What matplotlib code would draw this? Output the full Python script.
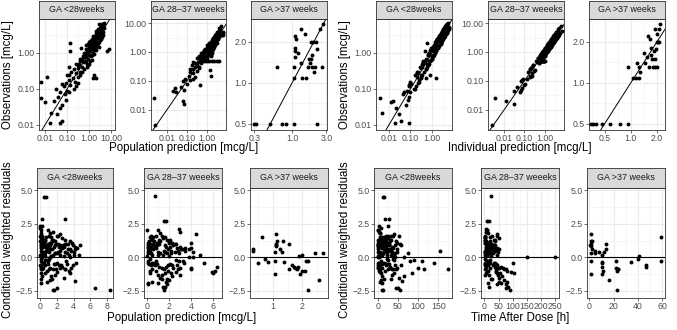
import numpy as np
import matplotlib.pyplot as plt
from matplotlib.ticker import NullFormatter

plt.rcParams['font.family'] = ['Liberation Sans', 'DejaVu Sans']

strips = ['GA <28weeks', 'GA 28\u201337 weeeks', 'GA >37 weeks']

# ---- GA <28 weeks: observation, PRED, IPRED, CWRES, time after dose ----
obs_lt28 = [0.16, 0.055, 0.22, 0.042, 0.021, 0.011, 0.011, 0.013, 0.03, 0.035,
            0.02, 0.045, 0.06, 0.08, 0.1, 0.07, 0.12, 0.09, 0.15, 0.05,
            0.18, 0.13, 0.25, 0.1, 0.3, 0.2, 0.35, 0.4, 0.16, 0.28,
            1.9, 1.16, 1.4, 0.45, 0.22, 0.5, 0.3, 0.6, 0.7, 0.4,
            0.55, 0.8, 0.9, 0.5, 1.0, 0.7, 1.2, 0.2, 0.2, 0.25,
            1.5, 1.1, 2.0, 0.8, 1.3, 1.8, 2.5, 1.0, 1.6, 2.2,
            3.0, 1.4, 2.0, 2.8, 1.2, 3.5, 2.4, 1.7, 4.0, 2.6,
            3.2, 2.0, 4.5, 3.0, 2.3, 5.0, 3.6, 4.2, 2.7, 5.5,
            3.8, 6.0, 4.4, 3.2, 5.2, 6.5, 1.1, 1.25, 0.6, 1.0,
            0.9, 1.3, 0.75, 2.2, 1.6, 2.9, 3.4, 2.1, 4.8, 3.9,
            1.9, 2.5, 1.5, 0.95, 5.8, 7.0, 4.6, 3.3, 2.7, 1.4,
            1.8, 2.4, 0.65, 1.2, 3.7, 0.45, 0.3, 0.15, 0.12, 0.8,
            0.5, 0.25, 0.6, 0.35, 0.9, 1.7, 6.5,
            1.7, 2.3, 3.1, 2.0, 4.1, 5.3, 2.6, 1.5, 3.6, 1.1,
            0.85, 2.9, 4.9, 6.2, 5.0, 3.9, 2.2, 1.3, 1.8, 0.7,
            0.5, 0.38, 0.25, 0.14, 0.08, 2.7, 3.4, 4.3, 1.2, 2.0,
            2.6, 5.6, 3.3, 1.6, 0.9, 0.6, 0.4, 1.9, 4.0, 2.4]
pred_lt28 = [0.0065, 0.0065, 0.012, 0.010, 0.019, 0.017, 0.05, 0.06, 0.05, 0.06,
             0.035, 0.025, 0.04, 0.05, 0.03, 0.08, 0.07, 0.1, 0.09, 0.09,
             0.12, 0.14, 0.1, 0.2, 0.15, 0.18, 0.2, 0.12, 0.22, 0.25,
             0.14, 0.14, 0.45, 0.3, 0.3, 0.35, 0.4, 0.4, 0.5, 0.5,
             0.6, 0.55, 0.7, 0.8, 0.8, 0.9, 0.9, 2.0, 1.5, 1.6,
             1.0, 1.1, 1.0, 1.2, 1.3, 1.2, 1.3, 1.5, 1.5, 1.6,
             1.5, 1.8, 1.8, 1.9, 2.0, 2.0, 2.1, 2.2, 2.3, 2.4,
             2.5, 2.6, 2.6, 2.8, 3.0, 3.0, 3.2, 3.3, 3.4, 3.5,
             3.6, 3.8, 4.0, 4.1, 4.2, 4.0, 6.6, 8.3, 0.7, 0.6,
             1.0, 0.7, 0.65, 1.4, 2.4, 2.2, 2.9, 1.1, 3.1, 2.7,
             1.7, 3.6, 2.8, 1.7, 4.4, 4.8, 3.7, 3.9, 2.3, 1.0,
             0.9, 1.7, 1.3, 1.6, 3.4, 0.9, 0.5, 0.3, 0.25, 0.7,
             1.0, 0.4, 0.5, 0.6, 1.1, 0.7, 2.9,
             1.1, 1.4, 2.1, 2.9, 2.8, 3.3, 1.8, 1.2, 2.4, 0.8,
             0.9, 3.1, 3.6, 4.1, 4.6, 4.3, 2.0, 1.9, 1.4, 0.4,
             0.25, 0.3, 0.12, 0.06, 0.12, 3.7, 2.6, 3.0, 1.0, 1.3,
             3.2, 3.9, 2.2, 2.0, 1.4, 1.1, 0.8, 2.5, 2.1, 1.5]
ipred_lt28 = [0.1, 0.004, 0.2, 0.013, 0.005, 0.02, 0.09, 0.035, 0.022, 0.06,
              0.03, 0.015, 0.09, 0.05, 0.14, 0.045, 0.18, 0.07, 0.1, 0.08,
              0.26, 0.09, 0.17, 0.16, 0.2, 0.3, 0.5, 0.27, 0.24, 0.2,
              0.6, 0.45, 0.9, 0.65, 0.32, 0.35, 0.42, 0.4, 0.95, 0.6,
              0.4, 1.1, 0.65, 0.7, 0.75, 1.0, 0.85, 1.5, 0.5, 0.8,
              1.1, 1.5, 1.4, 1.1, 0.95, 2.5, 1.8, 1.4, 1.2, 2.9,
              2.2, 1.9, 1.5, 3.8, 1.6, 2.6, 3.2, 1.3, 3.0, 3.4,
              2.4, 2.7, 3.4, 4.0, 1.7, 3.8, 4.7, 3.2, 3.6, 4.2,
              5.0, 4.6, 5.6, 2.4, 6.5, 5.0, 1.3, 1.4, 0.85, 0.7,
              1.25, 0.95, 1.0, 1.6, 2.2, 2.1, 4.4, 1.5, 3.6, 5.0,
              2.6, 1.8, 2.0, 0.7, 4.4, 5.5, 6.0, 2.5, 3.6, 1.0,
              2.4, 1.8, 0.9, 0.9, 4.8, 0.65, 0.22, 0.22, 0.09, 1.1,
              0.37, 0.35, 0.45, 0.5, 0.65, 1.5, 5.0,
              1.4, 2.7, 2.6, 2.4, 3.3, 4.3, 3.1, 1.9, 4.4, 1.4,
              0.7, 2.4, 4.0, 5.0, 6.0, 3.2, 1.8, 1.6, 1.5, 0.55,
              0.6, 0.3, 0.3, 0.11, 0.1, 3.2, 2.8, 5.2, 0.95, 2.5,
              2.2, 4.7, 3.9, 1.3, 1.1, 0.75, 0.35, 2.3, 3.4, 2.0]
cwres_lt28 = [2.3, 1.6, 2.2, 1.2, 0.2, -0.6, -1.6, -1.9, -0.8, -0.9,
              -0.3, 0.5, 0.9, 1.0, 1.8, 0.2, 0.7, -0.1, 0.8, -1.2,
              0.9, 0.0, 1.5, -1.4, 1.2, 0.2, 1.6, 2.0, -0.5, 0.3,
              2.85, 2.3, 4.45, 0.8, -0.4, 0.9, -0.5, 1.1, 0.9, -0.6,
              0.1, 1.3, 0.8, -1.0, 0.6, -0.5, 1.0, -2.3, -2.45, -2.4,
              1.0, 0.0, 1.6, -0.8, 0.1, 0.9, 1.5, -0.9, 0.2, 0.8,
              1.9, -0.5, 0.3, 1.0, -1.1, 1.6, 0.4, -0.6, 1.7, 0.2,
              0.7, -0.7, 1.4, 0.1, -0.9, 1.3, 0.3, 0.6, -1.0, 1.2,
              0.0, 1.1, 0.2, -1.75, 0.6, 0.4, -2.3, -2.4, -0.2, 1.2,
              -0.1, 1.5, 0.5, 1.3, -0.8, 0.8, 0.4, 1.8, 1.0, 0.9,
              0.3, -1.2, -1.5, -1.3, 0.7, 0.9, 0.5, -0.6, 0.5, 0.8,
              2.0, 1.2, -1.4, -0.5, 0.2, -0.3, -0.2, -0.8, -0.9, 0.5,
              -0.9, -0.4, 0.3, -1.2, 0.0, 4.5, 2.85,
              1.1, 1.2, 1.0, -0.9, 0.8, 1.0, 0.9, 0.6, 0.9, 0.7,
              -0.2, -0.3, 0.6, 0.8, 0.2, -0.4, 0.3, -0.9, 0.6, 1.3,
              1.5, 0.4, 1.3, 1.4, -0.7, -0.8, 0.7, 1.0, 0.4, 1.1,
              -0.5, 0.9, 0.9, -0.4, -1.6, -1.7, -1.8, -0.6, 1.6, 1.3]
tad_lt28 = [3, 25, 8, 14, 40, 2, 33, 11, 47, 6,
            110, 19, 1, 28, 5, 37, 12, 22, 0.5, 9,
            44, 4, 16, 65, 30, 7, 52, 2, 21, 13,
            17, 26, 13, 35, 3, 58, 10, 24, 1, 42,
            6, 31, 15, 4, 49, 20, 8, 50, 13, 12,
            27, 2, 38, 11, 0.5, 23, 5, 45, 9, 18,
            3, 29, 14, 55, 7, 34, 1, 21, 41, 10,
            16, 2, 26, 6, 36, 12, 4, 32, 19, 8,
            43, 1, 22, 60, 15, 5, 45, 55, 26, 3,
            39, 9, 17, 2, 30, 11, 48, 7, 24, 0.5,
            13, 40, 52, 36, 20, 4, 28, 6, 33, 14,
            1, 46, 10, 25, 3, 80, 90, 100, 115, 155,
            175, 140, 75, 85, 65, 15, 28,
            6, 21, 3, 37, 11, 18, 2, 29, 7, 14,
            40, 9, 24, 5, 33, 16, 43, 26, 1, 8,
            12, 35, 4, 19, 31, 0.5, 38, 13, 22, 47,
            6, 27, 10, 2, 15, 9, 5, 58, 20, 34]

# ---- GA 28-37 weeks ----
obs_mid = [0.003, 0.026, 0.045, 0.055, 0.04, 0.06, 0.05, 0.02, 0.016, 0.1,
           0.08, 0.12, 0.15, 0.11, 0.2, 0.18, 0.25, 0.14, 0.3, 0.22,
           0.35, 0.07, 0.45, 0.28, 0.5, 0.4, 0.6, 0.7, 0.5, 0.5,
           0.5, 0.5, 0.5, 0.5, 0.5, 0.5, 0.23, 0.15, 0.8, 0.9,
           0.65, 1.0, 0.75, 1.2, 1.1, 0.85, 1.4, 1.3, 1.0, 1.7,
           1.5, 1.2, 2.0, 1.8, 1.4, 2.3, 2.0, 1.6, 2.6, 2.2,
           1.8, 3.0, 2.5, 2.0, 3.4, 2.8, 2.3, 3.8, 3.2, 2.6,
           4.2, 3.6, 4.5, 3.3, 5.0, 4.0, 6.0, 3.5, 4.2, 3.8,
           3.9, 4.5, 5.0, 8.0, 6.5, 5.5, 1.2, 2.4, 2.0, 1.6,
           0.95, 0.6, 0.35, 1.9, 2.7, 3.1, 1.1, 0.8, 0.6, 1.5,
           2.1, 1.3, 2.9, 4.8, 0.4, 0.3, 0.55, 1.7, 2.4, 3.5,
           1.3, 0.7, 2.2, 0.9,
           1.5, 2.1, 2.8, 3.5, 1.8, 1.2, 2.4, 3.0, 4.0, 1.0,
           0.7, 1.4, 2.0, 1.7, 2.6, 3.3, 0.45, 0.9, 1.1, 2.9,
           5.5, 4.6, 3.8, 1.9, 0.6, 1.3, 2.2, 0.25, 0.12, 0.8]
pred_mid = [0.0025, 0.0022, 0.02, 0.025, 0.03, 0.05, 0.07, 0.06, 0.075, 0.06,
            0.1, 0.08, 0.12, 0.15, 0.15, 0.2, 0.2, 0.25, 0.25, 0.3,
            0.3, 0.45, 0.35, 0.4, 0.45, 0.5, 0.5, 0.55, 0.6, 0.8,
            1.0, 1.3, 1.7, 2.2, 3.0, 4.0, 1.4, 1.5, 0.6, 0.7,
            0.75, 0.8, 0.9, 0.9, 1.0, 1.1, 1.0, 1.2, 1.3, 1.2,
            1.4, 1.5, 1.4, 1.6, 1.7, 1.6, 1.8, 1.9, 1.8, 2.0,
            2.1, 2.0, 2.2, 2.4, 2.3, 2.5, 2.7, 2.6, 2.8, 2.9,
            2.9, 3.2, 3.5, 3.8, 4.0, 4.2, 4.5, 4.0, 5.2, 5.9,
            6.0, 6.2, 6.4, 4.8, 4.2, 3.8, 0.7, 1.7, 1.5, 1.1,
            0.5, 0.3, 0.18, 1.3, 2.1, 2.4, 1.6, 1.2, 1.0, 2.3,
            3.0, 2.0, 3.4, 3.0, 0.25, 0.4, 0.7, 2.6, 1.9, 2.7,
            0.8, 1.5, 2.8, 1.8,
            1.1, 1.6, 2.0, 2.5, 1.5, 1.0, 2.6, 3.3, 3.0, 0.65,
            0.4, 1.9, 1.2, 1.0, 2.2, 2.9, 0.2, 1.3, 1.8, 2.1,
            4.0, 3.5, 3.1, 2.3, 0.35, 0.9, 1.7, 0.15, 0.2, 1.6]
ipred_mid = [0.0025, 0.0035, 0.03, 0.08, 0.06, 0.045, 0.07, 0.013, 0.03, 0.07,
             0.11, 0.09, 0.2, 0.08, 0.15, 0.25, 0.19, 0.2, 0.23, 0.3,
             0.26, 0.1, 0.6, 0.21, 0.38, 0.55, 0.45, 0.95, 0.65, 0.7,
             0.75, 0.8, 0.85, 0.9, 0.95, 1.0, 0.35, 0.25, 0.6, 1.2,
             0.85, 0.75, 1.0, 0.9, 1.45, 0.65, 1.05, 1.7, 1.3, 1.3,
             2.0, 0.9, 1.5, 2.3, 1.05, 1.75, 2.6, 1.25, 2.0, 2.8,
             1.4, 2.3, 3.2, 1.55, 2.6, 3.6, 1.8, 2.9, 4.1, 2.0,
             3.2, 4.6, 3.5, 4.2, 3.9, 5.0, 4.6, 4.4, 3.3, 4.8,
             3.0, 5.6, 3.9, 6.5, 5.0, 6.8, 1.0, 1.85, 1.55, 2.05,
             0.72, 0.8, 0.27, 2.4, 2.1, 3.9, 0.85, 1.05, 0.47, 1.9,
             1.6, 1.7, 2.25, 3.7, 0.52, 0.23, 0.7, 1.3, 3.0, 2.7,
             1.0, 0.9, 2.8, 0.7,
             1.3, 2.4, 2.4, 3.0, 2.1, 1.0, 2.0, 3.6, 3.5, 0.8,
             0.6, 1.7, 1.7, 1.4, 3.1, 2.8, 0.4, 0.75, 1.3, 2.5,
             4.6, 5.3, 3.3, 2.2, 0.5, 1.5, 1.9, 0.2, 0.14, 1.0]
cwres_mid = [0.1, 2.0, 0.9, 1.1, 0.5, 0.3, -0.4, -1.9, -2.0, 0.8,
             -0.3, 0.7, 0.5, -0.5, 0.9, -0.1, 0.6, -1.0, 0.4, -0.6,
             0.3, -1.8, 0.8, -0.9, 0.2, -0.5, 0.6, 1.0, -0.4, -1.0,
             -1.3, -1.6, -1.8, -1.2, -0.8, -0.85, -2.2, -2.4, 0.9, 0.8,
             -0.3, 0.7, -0.5, 0.9, 0.2, -0.7, 1.1, 0.3, -0.8, 1.2,
             0.2, -0.9, 1.4, 0.4, -0.7, 1.5, 0.3, -0.6, 1.3, 0.1,
             -0.5, 1.2, 0.5, -0.8, 1.1, 0.4, -0.6, 1.0, 0.5, -0.3,
             2.1, 0.6, 0.5, 0.6, 0.7, 0.4, 1.75, -0.8, -0.4, -1.1,
             -1.2, -1.0, -0.7, 0.2, 0.0, 0.0, 4.55, 2.7, 2.7, 1.3,
             1.5, 1.4, 1.2, 1.6, 0.8, 0.9, -1.2, -1.5, -1.9, -1.4,
             -1.3, -1.7, -0.4, 1.9, 1.0, -0.4, -0.6, -1.1, 0.6, 0.7,
             1.6, -2.3, -0.9, -2.0,
             1.0, 0.9, 1.1, 1.0, 0.5, 0.4, -0.2, -0.3, 0.8, 1.2,
             1.3, -1.0, 1.8, 2.0, 0.3, 0.3, 1.5, -1.3, -1.6, 1.3,
             1.1, 0.7, 0.6, -0.6, 1.6, 1.1, 0.8, 1.0, -1.2, -2.2]
tad_mid = [7, 10, 22, 3, 14, 31, 2, 60, 75, 18,
           8, 26, 4, 40, 12, 1, 35, 9, 47, 5,
           16, 80, 29, 2, 43, 11, 20, 6, 38, 13,
           0.5, 24, 50, 55, 65, 70, 85, 90, 33, 4,
           18, 45, 1, 27, 10, 36, 15, 3, 52, 21,
           8, 42, 0.5, 30, 6, 19, 14, 44, 2, 25,
           9, 37, 5, 48, 12, 1, 32, 23, 3, 17,
           6, 28, 11, 41, 4, 15, 46, 20, 100, 95,
           105, 80, 60, 0.5, 150, 250, 22, 10, 15, 34,
           1, 51, 3, 26, 9, 39, 7, 52, 13, 62,
           48, 70, 34, 7, 24, 21, 2, 41, 13, 16,
           2, 75, 78, 45,
           9, 27, 4, 15, 36, 2, 20, 11, 31, 6,
           1, 42, 13, 8, 24, 5, 3, 17, 28, 38,
           7, 19, 50, 12, 44, 0.5, 33, 22, 46, 18]

# ---- GA >37 weeks ----
obs_gt37 = [0.5, 0.5, 0.5, 0.5, 0.5, 0.5, 0.5, 1.3, 1.09, 1.09,
            1.09, 1.3, 1.3, 1.3, 1.3, 1.3, 1.21, 1.39, 1.39, 1.49,
            1.49, 1.65, 1.54, 1.6, 1.8, 1.73, 1.78, 1.99, 1.99, 2.0,
            2.21, 2.09, 2.3, 2.49, 2.49, 2.71]
pred_gt37 = [0.30, 0.32, 0.50, 0.73, 0.82, 1.05, 2.2, 0.61, 1.06, 1.38,
             1.56, 1.06, 1.65, 1.92, 2.09, 2.57, 2.0, 1.75, 1.31, 1.73,
             1.85, 1.22, 1.1, 1.88, 1.1, 1.1, 2.2, 1.82, 1.98, 2.13,
             1.1, 1.12, 1.53, 1.34, 2.44, 2.7]
ipred_gt37 = [0.35, 0.37, 0.47, 0.58, 0.76, 0.92, 0.40, 0.92, 1.06, 1.15,
              1.23, 1.23, 1.63, 1.78, 1.91, 2.0, 1.29, 1.19, 1.45, 1.76,
              1.91, 1.42, 1.53, 1.7, 1.72, 1.86, 1.95, 1.99, 2.07, 2.13,
              1.6, 1.65, 2.0, 2.1, 1.9, 2.2]
cwres_gt37 = [0.6, 0.5, -0.45, -0.1, -0.35, -1.25, -2.45, 1.5, -0.25, -0.35,
              -0.9, 0.4, -0.6, -1.25, -1.0, -1.7, -1.0, -0.8, 0.4, -0.7,
              -0.75, 0.6, 0.85, 0.1, 1.0, 0.9, -0.3, -0.85, 0.15, -0.25,
              1.7, 1.2, 1.0, 1.2, 0.35, 0.35]
tad_gt37 = [2, 5, 10, 40, 10, 1, 23, 59, 1, 34,
            24, 8, 47, 10, 11, 16, 23, 22, 12, 47,
            10, 14, 1, 41, 1.5, 0.5, 22, 24, 10, 59,
            1, 2, 14, 1, 5, 1]

# ---- tick breaks and labels ----
obs_ticks = [[0.01, 0.1, 1], [0.01, 0.1, 1, 10], [0.5, 1, 2]]
obs_labels = [['0.01', '0.10', '1.00'], ['0.01', '0.10', '1.00', '10.00'], ['0.5', '1.0', '2.0']]
pred_log_ticks = [[0.01, 0.1, 1, 10], [0.01, 0.1, 1], [0.3, 1, 3]]
pred_log_labels = [['0.01', '0.10', '1.00', '10.00'], ['0.01', '0.10', '1.00'], ['0.3', '1.0', '3.0']]
ipred_ticks = [[0.01, 0.1, 1], [0.01, 0.1, 1], [0.5, 1, 2]]
ipred_labels = [['0.01', '0.10', '1.00'], ['0.01', '0.10', '1.00'], ['0.5', '1.0', '2.0']]
res_ticks = [-2.5, 0, 2.5, 5]
res_labels = ['\u22122.5', '0.0', '2.5', '5.0']
pred_lin_ticks = [[0, 2, 4, 6, 8], [0, 2, 4, 6], [1, 2]]
tad_ticks = [[0, 50, 100, 150], [0, 50, 100, 150, 200, 250], [0, 20, 40, 60]]

obs = [obs_lt28, obs_mid, obs_gt37]
pred = [pred_lt28, pred_mid, pred_gt37]
ipred = [ipred_lt28, ipred_mid, ipred_gt37]
cwres = [cwres_lt28, cwres_mid, cwres_gt37]
tad = [tad_lt28, tad_mid, tad_gt37]

# ---- layout (pixels) ----
W, H = 677, 330
fig = plt.figure(figsize=(W / 100, H / 100), dpi=100)

top_rows = (1, 19, 130)      # strip top, panel top, panel bottom
bot_rows = (168, 188, 298)
cols_tl = [(39, 115), (151, 226), (251, 327)]
cols_tr = [(376, 452), (488, 564), (589, 665)]
cols_bl = [(37, 113), (144, 222), (250, 328)]
cols_br = [(374, 452), (481, 559), (587, 665)]

lim_pred_log = [(0.0053, 15), (0.0016, 8.9), (0.27, 3.05)]
lim_obs = [(0.0072, 8.8), (0.002, 13.8), (0.45, 2.95)]
lim_ipred = [(0.0025, 8.5), (0.0016, 9.0), (0.33, 2.48)]
lim_pred_lin = [(-0.4, 8.7), (-0.31, 6.86), (0.21, 2.88)]
lim_tad = [(-9, 184), (-12, 264), (-2, 62.5)]
lim_res = (-3.02, 5.15)


def minor_breaks(t, log):
    t = np.array(t, float)
    if log:
        t = np.log10(t)
    d = np.diff(t)
    m = np.concatenate([[t[0] - d[0] / 2], (t[:-1] + t[1:]) / 2, [t[-1] + d[-1] / 2]])
    return 10 ** m if log else m


def panel(col, rows, label, x, y, xlim, ylim, xt, xtl, yt, ytl, log):
    x0, x1 = col
    s0, y0, y1 = rows
    ax = fig.add_axes([x0 / W, 1 - y1 / H, (x1 - x0) / W, (y1 - y0) / H])
    if log:
        ax.set_xscale('log')
        ax.set_yscale('log')
    ax.set_xticks(xt)
    ax.set_xticklabels(xtl)
    ax.set_yticks(yt)
    ax.set_yticklabels(ytl)
    ax.set_xticks(minor_breaks(xt, log), minor=True)
    ax.set_yticks(minor_breaks(yt, log), minor=True)
    ax.xaxis.set_minor_formatter(NullFormatter())
    ax.yaxis.set_minor_formatter(NullFormatter())
    ax.set_xlim(xlim)
    ax.set_ylim(ylim)
    ax.grid(which='major', color='#EBEBEB', lw=0.8)
    ax.grid(which='minor', color='#F2F2F2', lw=0.45)
    ax.set_axisbelow(True)
    ax.tick_params(which='major', length=2, width=0.5, color='#333333',
                   labelsize=6.3, labelcolor='#4D4D4D', pad=1.2)
    ax.tick_params(which='minor', length=0)
    for s in ax.spines.values():
        s.set_color('#333333')
        s.set_linewidth(0.6)
    ax.plot(x, y, 'o', ms=2.8, color='black', mec='none', zorder=3)
    if log:
        ax.axline((1, 1), (10, 10), color='black', lw=0.7, zorder=4)
    else:
        ax.axhline(0, color='black', lw=0.8, zorder=4)

    sax = fig.add_axes([x0 / W, 1 - y0 / H, (x1 - x0) / W, (y0 - s0) / H])
    sax.set_facecolor('#D9D9D9')
    sax.set_xticks([])
    sax.set_yticks([])
    for s in sax.spines.values():
        s.set_color('#333333')
        s.set_linewidth(0.6)
    sax.text(0.5, 0.5, label, ha='center', va='center', fontsize=6.4,
             color='#1A1A1A', transform=sax.transAxes)
    return ax


for i in range(3):
    panel(cols_tl[i], top_rows, strips[i], pred[i], obs[i], lim_pred_log[i], lim_obs[i],
          pred_log_ticks[i], pred_log_labels[i], obs_ticks[i], obs_labels[i], True)
    panel(cols_tr[i], top_rows, strips[i], ipred[i], obs[i], lim_ipred[i], lim_obs[i],
          ipred_ticks[i], ipred_labels[i], obs_ticks[i], obs_labels[i], True)
    panel(cols_bl[i], bot_rows, strips[i], pred[i], cwres[i], lim_pred_lin[i], lim_res,
          pred_lin_ticks[i], [str(v) for v in pred_lin_ticks[i]], res_ticks, res_labels, False)
    panel(cols_br[i], bot_rows, strips[i], tad[i], cwres[i], lim_tad[i], lim_res,
          tad_ticks[i], [str(v) for v in tad_ticks[i]], res_ticks, res_labels, False)

tsize = 8.3
fig.text(8 / W, 1 - 74.5 / H, 'Observations [mcg/L]', rotation=90, ha='center', va='center', fontsize=tsize)
fig.text(345 / W, 1 - 74.5 / H, 'Observations [mcg/L]', rotation=90, ha='center', va='center', fontsize=tsize)
fig.text(184 / W, 1 - 148 / H, 'Population prediction [mcg/L]', ha='center', va='center', fontsize=tsize)
fig.text(520 / W, 1 - 148 / H, 'Individual prediction [mcg/L]', ha='center', va='center', fontsize=tsize)
fig.text(8 / W, 1 - 240 / H, 'Conditional weighted residuals', rotation=90, ha='center', va='center', fontsize=tsize)
fig.text(345 / W, 1 - 240 / H, 'Conditional weighted residuals', rotation=90, ha='center', va='center', fontsize=tsize)
fig.text(182 / W, 1 - 318 / H, 'Population prediction [mcg/L]', ha='center', va='center', fontsize=tsize)
fig.text(520 / W, 1 - 318 / H, 'Time After Dose [h]', ha='center', va='center', fontsize=tsize)

fig.savefig('out.png', dpi=100)
